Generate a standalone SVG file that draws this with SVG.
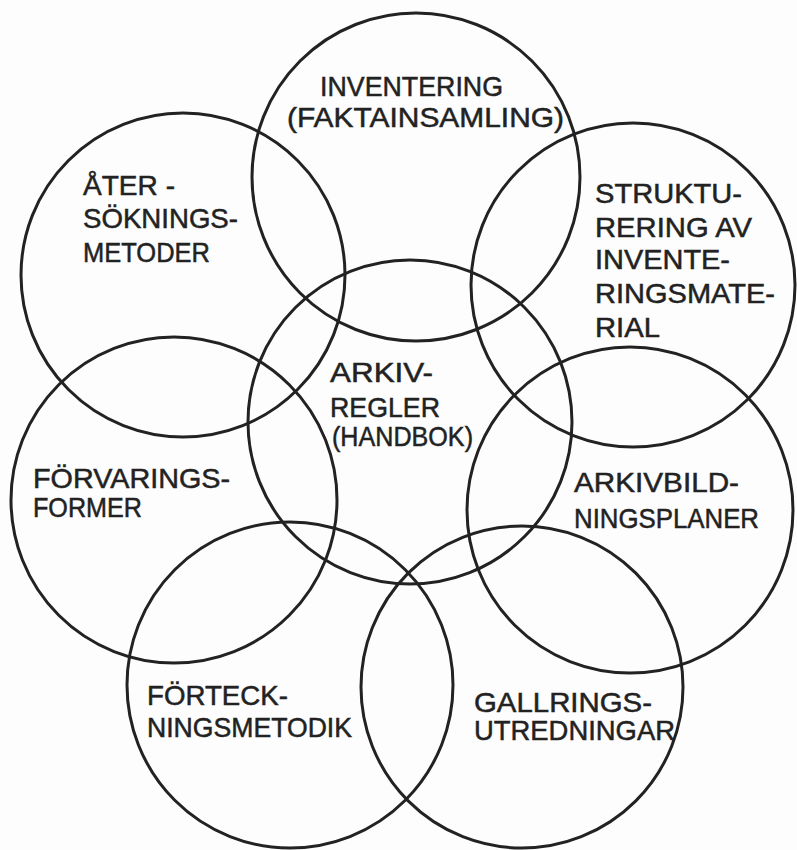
<svg xmlns="http://www.w3.org/2000/svg" width="797" height="850" viewBox="0 0 797 850">
<style>
.c{fill:none;stroke:#222;stroke-width:3}
.t{font-family:"Liberation Sans Narrow","Liberation Sans",Arial,sans-serif;font-size:28px;fill:#222;stroke:#222;stroke-width:0.5}
</style>
<rect width="797" height="850" fill="#fdfdfd"/>
<g id="inventering">
<circle class="c" cx="416" cy="177" r="164"/>
<text class="t" x="320" y="96" textLength="183" lengthAdjust="spacingAndGlyphs">INVENTERING</text>
<text class="t" x="287" y="127" textLength="277" lengthAdjust="spacingAndGlyphs">(FAKTAINSAMLING)</text>
</g>
<g id="atersokning">
<circle class="c" cx="183" cy="275" r="162"/>
<text class="t" x="83" y="195" textLength="92" lengthAdjust="spacingAndGlyphs">ÅTER -</text>
<text class="t" x="83" y="228" textLength="155" lengthAdjust="spacingAndGlyphs">SÖKNINGS-</text>
<text class="t" x="83" y="262" textLength="127" lengthAdjust="spacingAndGlyphs">METODER</text>
</g>
<g id="strukturering">
<circle class="c" cx="633" cy="285" r="162"/>
<text class="t" x="595" y="203" textLength="147" lengthAdjust="spacingAndGlyphs">STRUKTU-</text>
<text class="t" x="595" y="237" textLength="157" lengthAdjust="spacingAndGlyphs">RERING AV</text>
<text class="t" x="595" y="269" textLength="135" lengthAdjust="spacingAndGlyphs">INVENTE-</text>
<text class="t" x="595" y="303" textLength="180" lengthAdjust="spacingAndGlyphs">RINGSMATE-</text>
<text class="t" x="595" y="337" textLength="65" lengthAdjust="spacingAndGlyphs">RIAL</text>
</g>
<g id="arkivregler">
<circle class="c" cx="410" cy="422" r="162"/>
<text class="t" x="330" y="382" textLength="103" lengthAdjust="spacingAndGlyphs">ARKIV-</text>
<text class="t" x="330" y="417" textLength="110" lengthAdjust="spacingAndGlyphs">REGLER</text>
<text class="t" x="332" y="446" textLength="141" lengthAdjust="spacingAndGlyphs">(HANDBOK)</text>
</g>
<g id="forvaring">
<circle class="c" cx="174" cy="500" r="163"/>
<text class="t" x="33" y="488" textLength="197" lengthAdjust="spacingAndGlyphs">FÖRVARINGS-</text>
<text class="t" x="33" y="517" textLength="109" lengthAdjust="spacingAndGlyphs">FORMER</text>
</g>
<g id="arkivbildning">
<circle class="c" cx="630" cy="510" r="163"/>
<text class="t" x="574" y="492" textLength="165" lengthAdjust="spacingAndGlyphs">ARKIVBILD-</text>
<text class="t" x="574" y="528" textLength="185" lengthAdjust="spacingAndGlyphs">NINGSPLANER</text>
</g>
<g id="forteckning">
<circle class="c" cx="290" cy="685" r="163"/>
<text class="t" x="147" y="705" textLength="141" lengthAdjust="spacingAndGlyphs">FÖRTECK-</text>
<text class="t" x="147" y="737" textLength="205" lengthAdjust="spacingAndGlyphs">NINGSMETODIK</text>
</g>
<g id="gallring">
<circle class="c" cx="522" cy="687" r="161"/>
<text class="t" x="474" y="712" textLength="178" lengthAdjust="spacingAndGlyphs">GALLRINGS-</text>
<text class="t" x="474" y="740" textLength="201" lengthAdjust="spacingAndGlyphs">UTREDNINGAR</text>
</g>
<g id="connectors"/>
</svg>
